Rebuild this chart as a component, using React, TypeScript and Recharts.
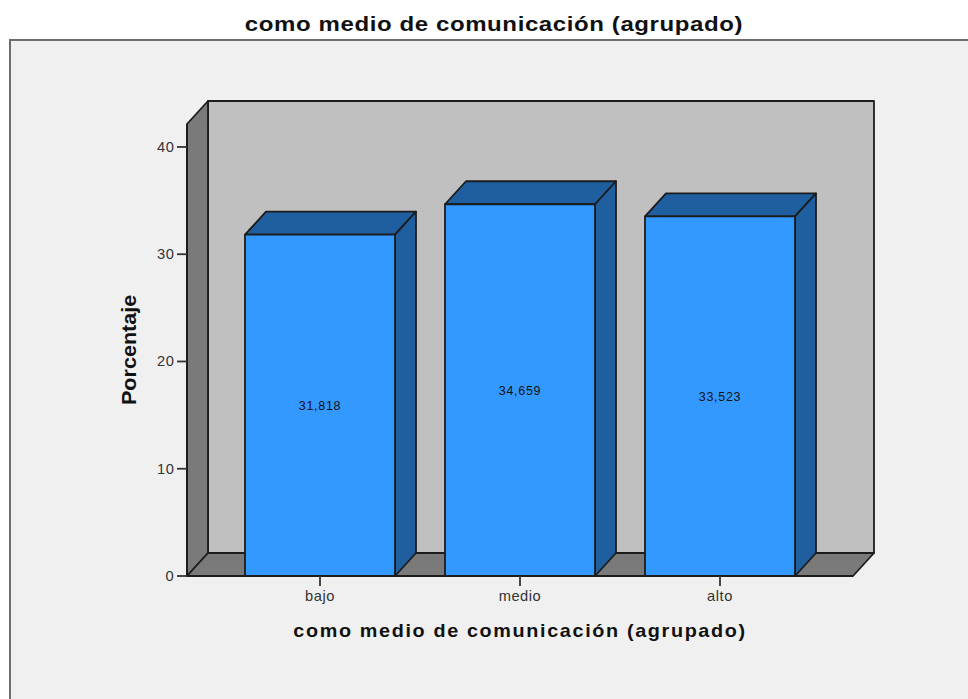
import React from 'react';
import { BarChart, Bar, XAxis, YAxis, ReferenceArea, LabelList } from 'recharts';

const categories = ['bajo', 'medio', 'alto'];
const percentages = [31.818, 34.659, 33.523];
const yTicks = [0, 10, 20, 30, 40];
const TITLE = 'como medio de comunicación (agrupado)';
const Y_LABEL = 'Porcentaje';

const DEPTH_X = 21;
const DEPTH_Y = 23;
const X_PAD = 33;
const Y_MAX = 42.14;
const EDGE = '#1c1c1c';
const LINE = 1.8;
const FONT = '"Liberation Sans", Arial, sans-serif';

const data = categories.map((name, i) => ({ name, value: percentages[i] }));

const pts = (...p: number[][]) => p.map((q) => q.join(',')).join(' ');
// the reference text is stretched sideways
const stretch = (s: number, rotate = '') => ({
    transformBox: 'fill-box' as const,
    transformOrigin: 'center',
    transform: `${rotate} scaleX(${s})`,
});
const edge = { stroke: EDGE, strokeWidth: LINE, strokeLinejoin: 'round' as const };

const Walls = (props: any) => {
    // the area only spans the bands, so add the axis padding back
    const x = props.x - X_PAD;
    const width = props.width + X_PAD * 2;
    const { y, height } = props;
    const r = x + width;
    const b = y + height;
    return (
        <g>
            <rect x={x + DEPTH_X} y={y - DEPTH_Y} width={width} height={height} fill="#c0c0c0" {...edge} />
            <polygon points={pts([x, y], [x + DEPTH_X, y - DEPTH_Y], [x + DEPTH_X, b - DEPTH_Y], [x, b])} fill="#7a7a7a" {...edge} />
            <polygon points={pts([x, b], [x + DEPTH_X, b - DEPTH_Y], [r + DEPTH_X, b - DEPTH_Y], [r, b])} fill="#7a7a7a" {...edge} />
        </g>
    );
};

const Bar3D = ({ x, y, width, height }: any) => {
    const r = x + width;
    const b = y + height;
    return (
        <g>
            <polygon points={pts([x, y], [x + DEPTH_X, y - DEPTH_Y], [r + DEPTH_X, y - DEPTH_Y], [r, y])} fill="#1f5f9f" {...edge} />
            <polygon points={pts([r, y], [r + DEPTH_X, y - DEPTH_Y], [r + DEPTH_X, b - DEPTH_Y], [r, b])} fill="#1f5f9f" {...edge} />
            <rect x={x} y={y} width={width} height={height} fill="#3399ff" {...edge} />
        </g>
    );
};

const App = () => {
    return (
        <div style={{ position: 'fixed', left: 0, top: 0, width: 968, height: 699, overflow: 'hidden', background: '#fff', fontFamily: FONT }}>
            <div style={{ position: 'absolute', left: 9, top: 39, width: 980, height: 680, background: '#f0f0f0', border: '2px solid #6e6e6e', boxSizing: 'border-box' }} />
            <div style={{ position: 'absolute', left: 0, top: 13, width: 988, textAlign: 'center', fontSize: 20, lineHeight: '22px', fontWeight: 'bold', letterSpacing: 0.5, color: '#111', transform: 'scaleX(1.2)' }}>
                {TITLE}
            </div>
            <div style={{ position: 'absolute', left: 0, top: 0 }}>
                <BarChart width={968} height={699} data={data} margin={{ top: 124, right: 115, bottom: 0, left: 0 }} barSize={150}>
                    <ReferenceArea y1={0} y2={Y_MAX} shape={<Walls />} />
                    <XAxis
                        dataKey="name"
                        height={123}
                        padding={{ left: X_PAD, right: X_PAD }}
                        tickSize={10}
                        tick={{ fill: '#333', fontSize: 14, dy: 3, letterSpacing: 0.5, style: stretch(1.05) }}
                        axisLine={{ stroke: EDGE, strokeWidth: LINE }}
                        tickLine={{ stroke: '#333', strokeWidth: LINE }}
                        label={{ value: TITLE, position: 'insideBottom', offset: 62, fill: '#111', fontSize: 18, fontWeight: 'bold', letterSpacing: 1.5, style: stretch(1.1) }}
                    />
                    <YAxis
                        width={187}
                        domain={[0, Y_MAX]}
                        ticks={yTicks}
                        tickSize={10}
                        tick={{ fill: '#333', fontSize: 14, dx: -1, letterSpacing: 0.5, style: stretch(1.05) }}
                        axisLine={{ stroke: EDGE, strokeWidth: LINE }}
                        tickLine={{ stroke: '#333', strokeWidth: LINE }}
                        label={{ value: Y_LABEL, position: 'insideLeft', dx: 124, fill: '#111', fontSize: 20, fontWeight: 'bold', style: { textAnchor: 'middle', ...stretch(1.08, 'rotate(-90deg)') } }}
                    />
                    <Bar dataKey="value" isAnimationActive={false} shape={<Bar3D />}>
                        <LabelList
                            dataKey="value"
                            position="center"
                            formatter={(v: any) => Number(v).toFixed(3).replace('.', ',')}
                            style={{ fill: '#111', fontSize: 12.5, letterSpacing: 0.7 }}
                        />
                    </Bar>
                </BarChart>
            </div>
        </div>
    );
};

export default App;
